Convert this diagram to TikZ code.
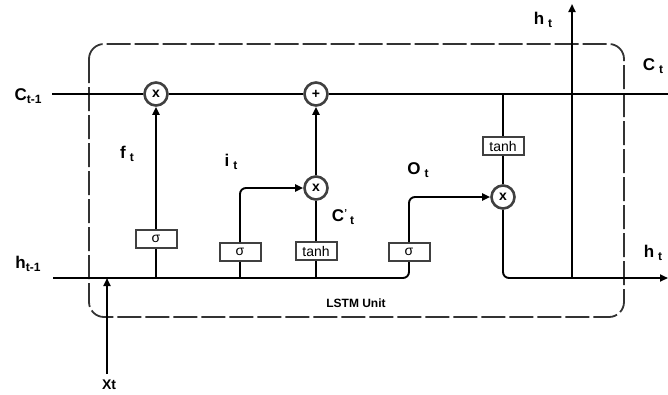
\documentclass[tikz,border=0pt]{standalone}
\usepackage{fontspec}
\setmainfont{Liberation Sans}
\usetikzlibrary{arrows.meta}
\newcommand\lsub[1]{\raisebox{-3pt}{\fontsize{12}{12}\selectfont #1}}
\begin{document}
\begin{tikzpicture}[x=1pt,y=-1pt,
  line/.style={line width=1.9pt, black},
  arr/.style={line, -{Triangle[length=8pt,width=7pt]}},
  gatebox/.style={draw=black!75, line width=2pt, fill=white, minimum width=41pt, minimum height=18pt, inner sep=0pt, font=\fontsize{14}{14}\selectfont},
  op/.style={circle, draw=black!75, line width=2.6pt, fill=white, minimum size=23pt, inner sep=0pt, font=\bfseries\fontsize{14}{14}\selectfont},
  lbl/.style={font=\bfseries\fontsize{17}{17}\selectfont, inner sep=0pt},
]
\useasboundingbox (0,0) rectangle (668,394);
\draw[black!80, line width=1.8pt, dash pattern=on 24pt off 4pt, rounded corners=15pt] (89,44) rectangle (624,317);

\coordinate (cin) at (52,94);
\coordinate (cout) at (668,94);
\coordinate (hin) at (53,278);
\coordinate (hout) at (668,278);
\coordinate (htop) at (572,4);
\coordinate (xin) at (107,374);

\node[op] (f) at (156,94) {x};
\node[op] (p) at (316,94) {+};
\node[op] (i) at (316,188) {x};
\node[op] (o) at (503,197) {x};
\node[gatebox] (s1) at (156,239) {σ};
\node[gatebox] (s2) at (240,252) {σ};
\node[gatebox] (t1) at (316,251) {tanh};
\node[gatebox] (s3) at (409,252) {σ};
\node[gatebox] (t2) at (503,146) {tanh};

% cell state line
\draw[line] (cin) -- (f) -- (p) -- (cout);
% hidden input line
\draw[line, rounded corners=6pt] (hin) -- (s3.south |- hin) -- (s3.south);
% forget gate
\draw[line] (s1.south) -- (s1.south |- hin);
\draw[arr] (s1.north) -- (f.south);
% input gate
\draw[line] (s2.south) -- (s2.south |- hin);
\draw[arr, rounded corners=6pt] (s2.north) -- (s2.north |- i) -- (i.west);
% candidate
\draw[line] (t1.south) -- (t1.south |- hin);
\draw[line] (t1.north) -- (i.south);
\draw[arr] (i.north) -- (p.south);
% output gate
\draw[arr, rounded corners=6pt] (s3.north) -- (s3.north |- o) -- (o.west);
\draw[line] (t2.north) -- (t2.north |- cin);
\draw[line] (t2.south) -- (o.north);
\draw[arr, rounded corners=6pt] (o.south) -- (o.south |- hout) -- (hout);
% outputs / inputs
\draw[arr] (htop |- hout) -- (htop);
\draw[arr] (xin) -- (xin |- hin);

% labels
\node[lbl] (lc1) at (28,96) {C\lsub{t-1}};
\node[lbl] (lh1) at (28,264) {h\lsub{t-1}};
\node[lbl] (lct) at (653,66) {C\hspace{4pt}\lsub{t}};
\node[lbl] (lht) at (653,253) {h\hspace{4pt}\lsub{t}};
\node[lbl] (lhtop) at (543,20) {h\hspace{4pt}\lsub{t}};
\node[lbl] (lf) at (127,154) {f\hspace{4pt}\lsub{t}};
\node[lbl] (li) at (231,162) {i\hspace{4pt}\lsub{t}};
\node[lbl] (lo) at (418,170) {O\hspace{4pt}\lsub{t}};
\node[lbl] (lcp) at (343,217) {C\raisebox{5pt}{\fontsize{10}{10}\selectfont '}\hspace{3pt}\lsub{t}};
\node[font=\bfseries\fontsize{14}{14}\selectfont, inner sep=0pt] (lx) at (109,385) {Xt};
\node[font=\bfseries\fontsize{12}{12}\selectfont, inner sep=0pt] (lu) at (356,303) {LSTM Unit};
\end{tikzpicture}
\end{document}
